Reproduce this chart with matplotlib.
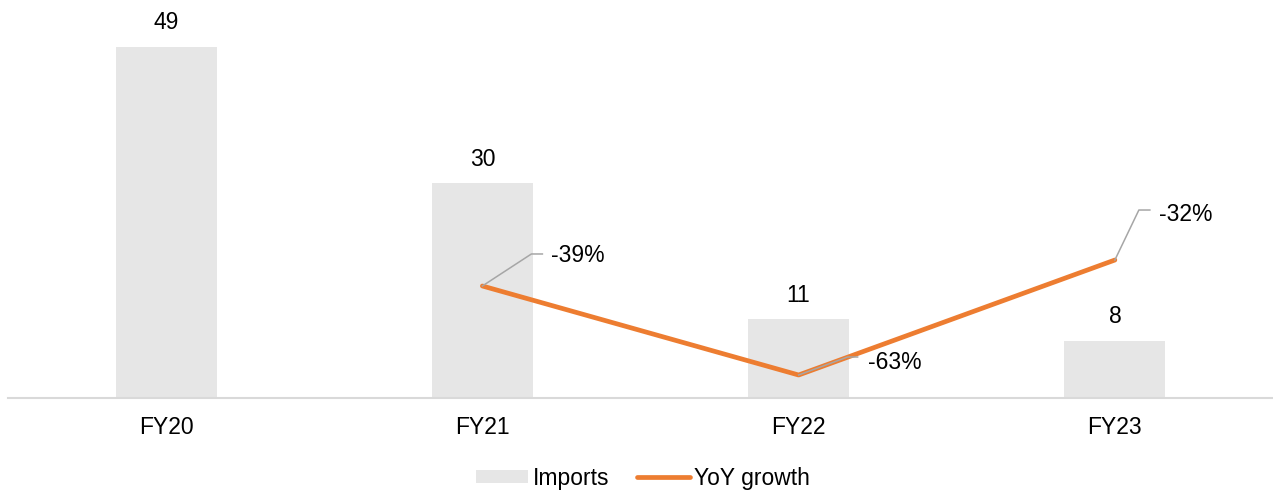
import matplotlib
matplotlib.use("Agg")
import matplotlib.pyplot as plt
from matplotlib.transforms import IdentityTransform

plt.rcParams['font.family'] = ['Liberation Sans', 'DejaVu Sans']

years = ["FY20", "FY21", "FY22", "FY23"]
imports = [49, 30, 11, 8]
yoy_years = ["FY21", "FY22", "FY23"]
yoy = [-39, -63, -32]

bar_col = "#e6e6e6"
line_col = "#ed7d31"
lead_col = "#a6a6a6"
fs = 16.5

fig = plt.figure(figsize=(12.73, 4.91), dpi=100)
ax = fig.add_axes([8 / 1273, 93 / 491, 1265 / 1273, 398 / 491])
ax2 = ax.twinx()

x = list(range(len(years)))
bars = ax.bar(x, imports, width=0.32, color=bar_col, label="Imports", zorder=1)
ax.set_xlim(-0.5, 3.5)
ax.set_ylim(0, 55.56)
ax.set_xticks(x)
ax.set_xticklabels(years, fontsize=fs)
ax.tick_params(axis='x', length=0, pad=13)
ax.set_yticks([])
for s in ["top", "left", "right"]:
    ax.spines[s].set_visible(False)
ax.spines["bottom"].set_color("#d9d9d9")
ax.spines["bottom"].set_linewidth(1.5)

for xi, v in zip(x, imports):
    ax.annotate(str(v), (xi, v), xytext=(0, 24), textcoords="offset pixels",
                ha="center", va="center", fontsize=fs)

xl = [years.index(y) for y in yoy_years]
line, = ax2.plot(xl, yoy, color=line_col, lw=3.4, label="YoY growth",
                 solid_capstyle="round", zorder=3)
ax2.set_ylim(-69.2, 38.1)
ax2.set_yticks([])
for s in ["top", "left", "right", "bottom"]:
    ax2.spines[s].set_visible(False)

# leader lines: (elbow, end, text) offsets in pixels from the point
leaders = [((49, 32), (60, 32), (69, 30)),
           ((49, 18), (59, 18), (69, 13)),
           ((24, 50), (35, 50), (44, 46))]
for xi, v, (e1, e2, t) in zip(xl, yoy, leaders):
    px, py = ax2.transData.transform((xi, v))
    ax2.plot([px, px + e1[0], px + e2[0]], [py, py + e1[1], py + e2[1]],
             color=lead_col, lw=1.1, transform=IdentityTransform(), zorder=4)
    ax2.annotate(f"{v}%", (xi, v), xytext=t, textcoords="offset pixels",
                 ha="left", va="center", fontsize=fs)

fig.legend(handles=[bars, line], labels=["Imports", "YoY growth"], loc="center",
           bbox_to_anchor=(0.505, 0.026), ncol=2, frameon=False, fontsize=fs,
           handlelength=2.3, handletextpad=0.2, columnspacing=1.2,
           handleheight=0.5)

fig.savefig("out.png", dpi=100)
